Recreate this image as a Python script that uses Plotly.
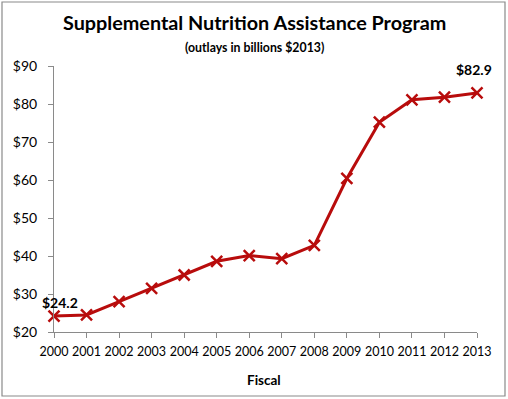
import plotly.graph_objects as go

years = [2000, 2001, 2002, 2003, 2004, 2005, 2006, 2007, 2008, 2009, 2010, 2011, 2012, 2013]
outlays = [24.2, 24.5, 28.0, 31.5, 35.0, 38.6, 40.1, 39.3, 42.8, 60.4, 75.2, 81.1, 81.8, 82.9]
y_ticks = [20, 30, 40, 50, 60, 70, 80, 90]
y_labels = ["$" + str(v) for v in y_ticks]

W, H = 508, 399
ml, mr, mt, mb = 54, 31, 66, 67
FONT = "Lato"
RED = "#B80C0C"

fig = go.Figure()
fig.add_trace(go.Scatter(
    x=years, y=outlays, mode="lines+markers",
    line=dict(color=RED, width=3),
    marker=dict(symbol="x-thin", size=11, line=dict(color=RED, width=2.5)),
    cliponaxis=False, hoverinfo="skip", showlegend=False,
))

pw, ph = W - ml - mr, H - mt - mb
def px(x):
    return (x - ml) / pw
def py(y):
    return (H - mb - y) / ph

fig.add_shape(type="rect", xref="paper", yref="paper",
              x0=px(2), x1=px(505), y0=py(396), y1=py(2),
              line=dict(color="#8a8a8a", width=1.2), fillcolor="rgba(0,0,0,0)", layer="below")

fig.add_annotation(x=years[0], y=outlays[0], text="<b>$" + f"{outlays[0]:.1f}" + "</b>",
                   showarrow=False, xshift=6, yshift=14, font=dict(family=FONT, size=14, color="#000"))
fig.add_annotation(x=years[-1], y=outlays[-1], text="<b>$" + f"{outlays[-1]:.1f}" + "</b>",
                   showarrow=False, xshift=-3, yshift=23, font=dict(family=FONT, size=14, color="#000"))

fig.add_annotation(xref="paper", yref="paper", x=px(254), y=py(22), xanchor="center", yanchor="middle",
                   text="<b>Supplemental Nutrition Assistance Program</b>",
                   showarrow=False, font=dict(family=FONT, size=19.8, color="#000"))
fig.add_annotation(xref="paper", yref="paper", x=px(254), y=py(47), xanchor="center", yanchor="middle",
                   text="<b>(outlays in billions $2013)</b>",
                   showarrow=False, font=dict(family=FONT, size=12.3, color="#000"))
fig.add_annotation(xref="paper", yref="paper", x=px(264), y=py(380), xanchor="center", yanchor="middle",
                   text="<b>Fiscal</b>",
                   showarrow=False, font=dict(family=FONT, size=13.5, color="#000"))

fig.update_layout(
    width=W, height=H,
    margin=dict(l=ml, r=mr, t=mt, b=mb, pad=0),
    paper_bgcolor="white", plot_bgcolor="white",
    font=dict(family=FONT, size=12.5, color="#000"),
)
fig.update_xaxes(
    range=[years[0], years[-1]], tickvals=years, ticktext=[str(y) for y in years],
    showgrid=False, zeroline=False, showline=True, linecolor="#8a8a8a", linewidth=1,
    ticks="outside", ticklen=5, tickcolor="#8a8a8a", tickfont=dict(size=12.5), fixedrange=True,
    ticklabelstandoff=3,
)
fig.update_yaxes(
    range=[20, 90], tickvals=y_ticks, ticktext=y_labels,
    showgrid=False, zeroline=False, showline=True, linecolor="#8a8a8a", linewidth=1,
    ticks="outside", ticklen=5, tickcolor="#8a8a8a", tickfont=dict(size=14), fixedrange=True,
    ticklabelstandoff=8,
)

fig.write_html("out.html", config={"displayModeBar": False},
               post_script="document.body.style.margin='0';")
